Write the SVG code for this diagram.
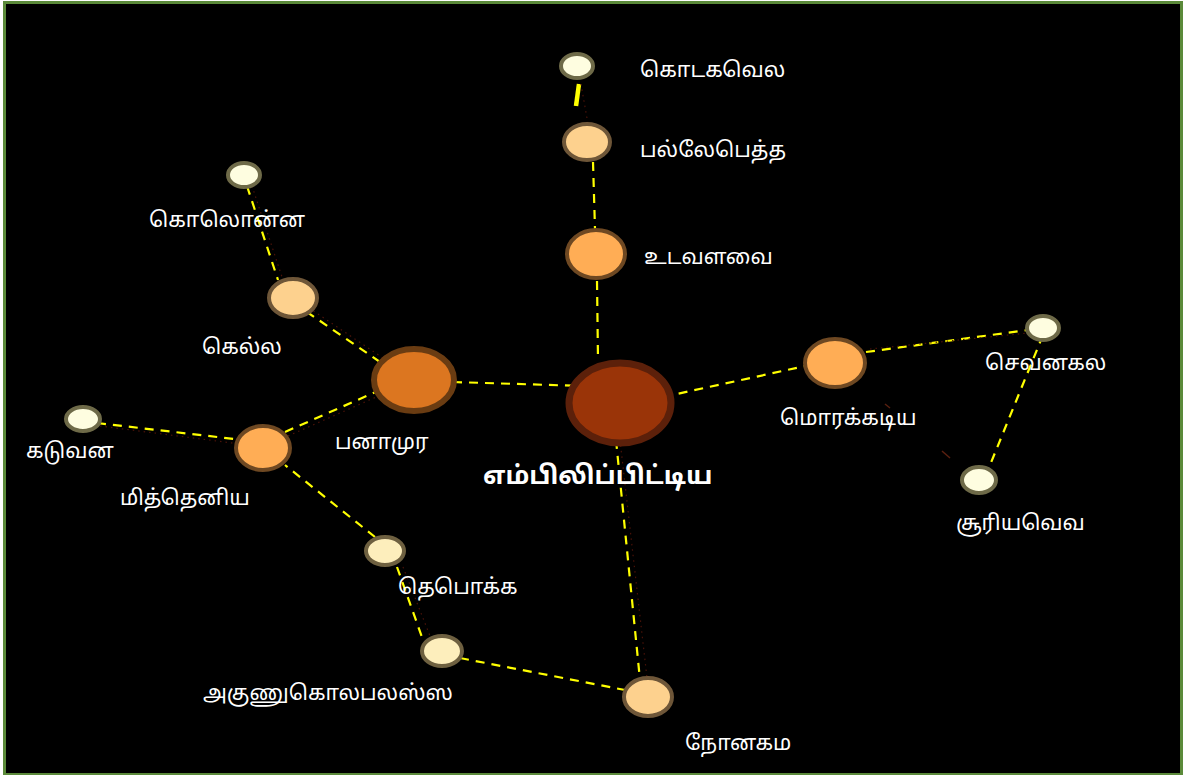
<svg xmlns="http://www.w3.org/2000/svg" width="1186" height="775" viewBox="0 0 1186 775">
<style>
.e{stroke:#ffff00;stroke-width:2.2;stroke-dasharray:9 7;fill:none}
.f{stroke:#4a1208;stroke-width:1.2;stroke-dasharray:1.5 4;fill:none}
.t{fill:#ffffff;font-family:"Noto Sans Tamil","Latha","Lohit Tamil","Noto Sans",sans-serif;font-size:21.3px}
.big{font-size:25.5px;font-weight:bold}
.s{stroke-width:4}
.pale{fill:#fefde0;stroke:#6e6a48}
.cream{fill:#fdeebc;stroke:#6e6040}
.peach{fill:#fdd18e;stroke:#6e5638}
.orange{fill:#ffad55;stroke:#6e4822}
</style>
<rect x="0" y="0" width="1186" height="775" fill="#ffffff"/>
<rect x="4.5" y="2.5" width="1177" height="772" fill="#000000" stroke="#5b8a3a" stroke-width="3"/>
<g id="connectors">
<line x1="579" y1="84" x2="576" y2="106" stroke="#ffff00" stroke-width="4.5"/>
<line class="f" x1="581" y1="84" x2="588" y2="124"/>
<line class="e" x1="593" y1="162" x2="595" y2="229"/>
<line class="e" x1="597" y1="281" x2="598" y2="360"/>
<line class="e" x1="453" y1="382" x2="583" y2="386"/>
<line class="e" x1="663" y1="397" x2="810" y2="365"/>
<line class="e" x1="866" y1="352" x2="1028" y2="330"/>
<line class="f" x1="870" y1="349" x2="1028" y2="333"/>
<line class="e" x1="1043" y1="335" x2="988" y2="470"/>
<line class="e" x1="616" y1="440" x2="640" y2="680"/>
<line class="f" x1="620" y1="440" x2="647" y2="678"/>
<line class="e" x1="460" y1="658" x2="625" y2="690"/>
<line class="e" x1="397" y1="567" x2="423" y2="640"/>
<line class="f" x1="403" y1="567" x2="430" y2="636"/>
<line class="e" x1="375" y1="537" x2="285" y2="465"/>
<line class="e" x1="97" y1="423" x2="243" y2="440"/>
<line class="f" x1="100" y1="426" x2="240" y2="444"/>
<line class="e" x1="285" y1="432" x2="380" y2="390"/>
<line class="f" x1="288" y1="436" x2="383" y2="394"/>
<line class="e" x1="380" y1="362" x2="307" y2="312"/>
<line class="f" x1="383" y1="358" x2="312" y2="310"/>
<line class="e" x1="247" y1="186" x2="278" y2="280"/>
<line class="f" x1="252" y1="186" x2="283" y2="280"/>
<line x1="885" y1="404" x2="890" y2="408" stroke="#5a2010" stroke-width="1.5"/>
<line x1="942" y1="451" x2="950" y2="458" stroke="#5a2010" stroke-width="1.5"/>
</g>
<g id="kodagawela"><ellipse class="pale s" cx="577" cy="66" rx="16" ry="12"/><text class="t" x="640" y="77">கொடகவெல</text></g>
<g id="pallebedda"><ellipse class="peach s" cx="587" cy="142" rx="23" ry="18"/><text class="t" x="640" y="157">பல்லேபெத்த</text></g>
<g id="udawalawe"><ellipse class="orange s" cx="596" cy="254" rx="29" ry="24"/><text class="t" x="644" y="264">உடவளவை</text></g>
<g id="embilipitiya"><ellipse cx="620" cy="403" rx="51" ry="40" fill="#9a3408" stroke="#5c200a" stroke-width="7"/><text class="t big" x="483" y="484">எம்பிலிப்பிட்டிய</text></g>
<g id="panamura"><ellipse cx="414" cy="380" rx="40" ry="31" fill="#dc7620" stroke="#6a3c12" stroke-width="6"/><text class="t" x="335" y="449">பனாமுர</text></g>
<g id="kella"><ellipse class="peach s" cx="293" cy="298" rx="24" ry="19"/><text class="t" x="202" y="354">கெல்ல</text></g>
<g id="kolonna"><ellipse class="pale s" cx="244" cy="175" rx="16" ry="12"/><text class="t" x="149" y="227">கொலொன்ன</text></g>
<g id="mithdeniya"><ellipse class="orange s" cx="263" cy="448" rx="27" ry="22"/><text class="t" x="120" y="505">மித்தெனிய</text></g>
<g id="kaduwana"><ellipse class="pale s" cx="83" cy="419" rx="17" ry="12"/><text class="t" x="26" y="458">கடுவன</text></g>
<g id="deboka"><ellipse class="cream s" cx="385" cy="551" rx="19" ry="14"/><text class="t" x="398" y="594">தெபொக்க</text></g>
<g id="agunukolapelessa"><ellipse class="cream s" cx="442" cy="651" rx="20" ry="15"/><text class="t" x="203" y="700">அகுணுகொலபலஸ்ஸ</text></g>
<g id="nonagama"><ellipse class="peach s" cx="648" cy="697" rx="24" ry="19"/><text class="t" x="685" y="750">நோனகம</text></g>
<g id="morakkadiya"><ellipse class="orange s" cx="835" cy="363" rx="30" ry="24"/><text class="t" x="780" y="425">மொரக்கடிய</text></g>
<g id="sevanagala"><ellipse class="pale s" cx="1043" cy="328" rx="16" ry="12"/><text class="t" x="985" y="370">செவனகல</text></g>
<g id="suriyawewa"><ellipse class="pale s" cx="979" cy="480" rx="17" ry="13"/><text class="t" x="956" y="530">சூரியவெவ</text></g>
</svg>
